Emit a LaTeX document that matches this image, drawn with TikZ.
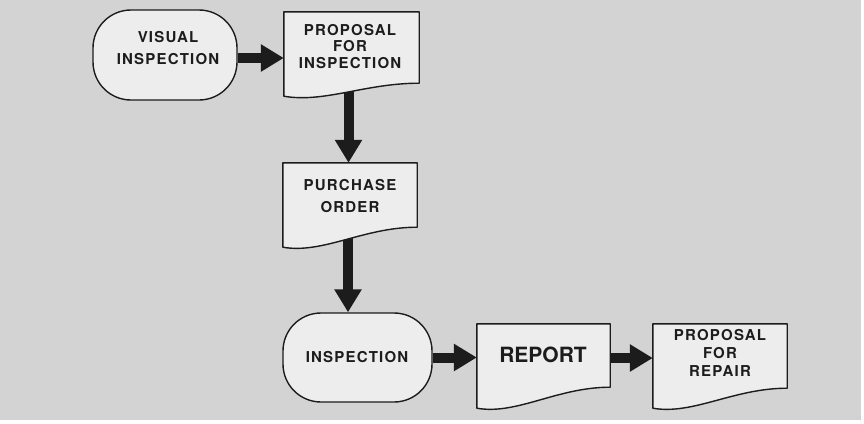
\documentclass[tikz,border=0pt]{standalone}
\usepackage{fontspec}
\setmainfont{TeX Gyre Heros}
\usetikzlibrary{arrows.meta,calc}

\definecolor{paper}{HTML}{D3D3D3}
\definecolor{boxfill}{HTML}{EDEDED}
\definecolor{ink}{HTML}{1C1C1C}

\tikzset{
  frame/.style={draw=none, fill=none, inner sep=0pt, rectangle},
  termbox/.style={draw=ink, line width=1.4pt, fill=boxfill, rounded corners=38pt,
    inner sep=0pt, rectangle},
  docline/.style={draw=ink, line width=1.4pt, fill=boxfill, line join=round},
  boxtext/.style={font=\bfseries\fontsize{15}{#1}\selectfont\addfontfeatures{LetterSpace=8},
    align=center, text=ink, inner sep=0pt},
  boxtext/.default=17,
  bigtext/.style={font=\bfseries\fontsize{21}{24}\selectfont, align=center,
    text=ink, inner sep=0pt},
  flow/.style={draw=ink, line width=10pt, -{Triangle[length=23pt,width=26pt]}},
}

% document symbol: flat top, wavy bottom rising towards the right
\newcommand\docoutline[2]{%
  \path[docline] let \p1=(#1.north west), \p2=(#1.south east) in
    (\x1,\y1) -- (\x2,\y1) -- (\x2,\y2+#2)
    .. controls ({\x2-0.4*(\x2-\x1)},\y2+#2) and ({\x1+0.3*(\x2-\x1)},\y2-4pt)
    .. (\x1,\y2+3pt) -- cycle;}

\begin{document}
\begin{tikzpicture}[x=1pt,y=-1pt]
  \useasboundingbox (0,0) rectangle (864,423);
  \fill[white] (0,0) rectangle (864,423);
  \fill[paper] (0,0) rectangle (861,420);

  % shapes
  \node[termbox, minimum width=144pt, minimum height=90pt] (vis) at (165,55) {};
  \node[frame, minimum width=135pt, minimum height=87pt] (pin) at (351.5,55.5) {};
  \node[frame, minimum width=134pt, minimum height=87pt] (po) at (350,206.5) {};
  \node[termbox, minimum width=149pt, minimum height=89pt] (insp) at (357.5,357.5) {};
  \node[frame, minimum width=133pt, minimum height=87pt] (rep) at (543.5,367.5) {};
  \node[frame, minimum width=134pt, minimum height=87pt] (rpr) at (720,367.5) {};

  % flow arrows (the tails start inside the documents, whose fill covers them)
  \draw[flow] ([yshift=-3pt]vis.east) -- ([yshift=-3pt]vis.east -| pin.west);
  \draw[flow] ([xshift=-3pt,yshift=15pt]pin.south) -- ([xshift=-3pt]pin.south |- po.north);
  \draw[flow] ([xshift=-2pt,yshift=15pt]po.south) -- ([xshift=-2pt]po.south |- insp.north);
  \draw[flow] (insp.east) -- (insp.east -| rep.west);
  \draw[flow] ([xshift=-10pt,yshift=9.5pt]rep.east) -- ([yshift=9.5pt]rep.east -| rpr.west);

  % document outlines
  \docoutline{pin}{16pt}
  \docoutline{po}{23pt}
  \docoutline{rep}{24pt}
  \docoutline{rpr}{23pt}

  % texts
  \node[boxtext=22] (tvis) at (168,48.5) {VISUAL\\INSPECTION};
  \node[boxtext=16.5] (tpin) at (350,46.5) {PROPOSAL\\FOR\\INSPECTION};
  \node[boxtext=22] (tpo) at (350,196) {PURCHASE\\ORDER};
  \node[boxtext] (tinsp) at (357,357.5) {INSPECTION};
  \node[bigtext] (trep) at (543,355) {REPORT};
  \node[boxtext=18] (trpr) at (720,352.5) {PROPOSAL\\FOR\\REPAIR};
\end{tikzpicture}
\end{document}
